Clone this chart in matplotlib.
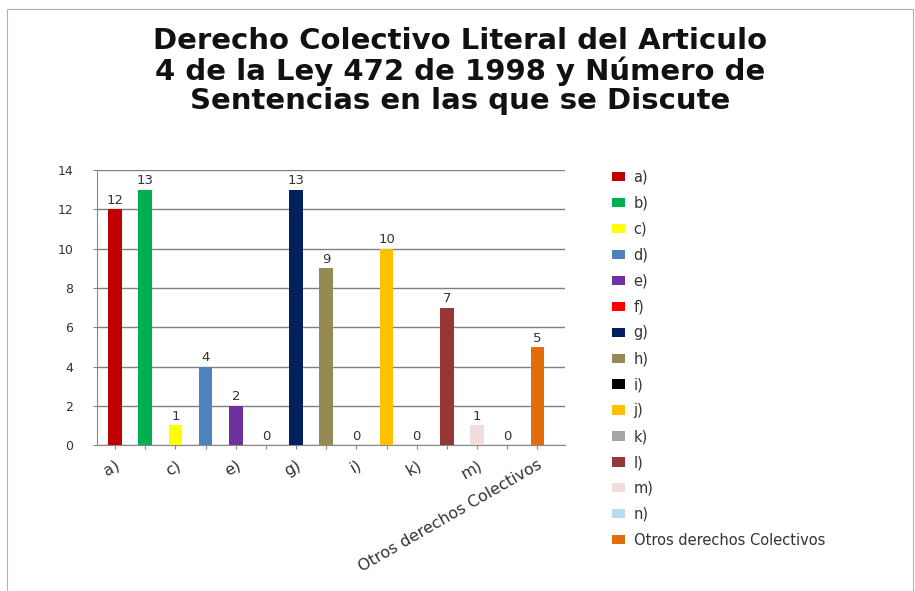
import matplotlib
matplotlib.use("Agg")
import matplotlib.pyplot as plt
from matplotlib.patches import Patch, Rectangle

categories = ["a)", "b)", "c)", "d)", "e)", "f)", "g)", "h)", "i)", "j)",
              "k)", "l)", "m)", "n)", "Otros derechos Colectivos"]
values = [12, 13, 1, 4, 2, 0, 13, 9, 0, 10, 0, 7, 1, 0, 5]
colors = ["#C00000", "#00B050", "#FFFF00", "#4F81BD", "#7030A0", "#FF0000",
          "#002060", "#948A54", "#000000", "#FFC000", "#A6A6A6", "#953735",
          "#F2DCDB", "#B7DEE8", "#E46C0A"]
yticks = [0, 2, 4, 6, 8, 10, 12, 14]
title = ("Derecho Colectivo Literal del Articulo\n"
         "4 de la Ley 472 de 1998 y Número de\n"
         "Sentencias en las que se Discute")

fig = plt.figure(figsize=(9.15, 5.91), dpi=100)
fig.patches.append(Rectangle((0.008, -0.01), 0.99, 0.995, transform=fig.transFigure,
                             fill=False, edgecolor="#B0B0B0", linewidth=0.8))

ax = fig.add_axes([0.106, 0.247, 0.511, 0.465])
x = list(range(len(categories)))
ax.bar(x, values, width=0.45, color=colors, edgecolor="none", zorder=3)
for xi, v in zip(x, values):
    ax.text(xi, v + 0.12, str(v), ha="center", va="bottom", fontsize=9.5,
            color="#333333", zorder=4)

ax.set_xlim(-0.6, 14.9)
ax.set_ylim(0, 14)
ax.set_yticks(yticks)
ax.set_yticklabels([str(t) for t in yticks], fontsize=9, color="#333333")
ax.tick_params(axis="y", length=3, color="#888888", pad=14)
ax.yaxis.grid(True, color="#808080", linewidth=1.0, zorder=0)
ax.set_xticks(x)
ax.set_xticklabels([c if i % 2 == 0 else "" for i, c in enumerate(categories)],
                   rotation=30, ha="right", rotation_mode="anchor",
                   fontsize=11.5, color="#333333")
ax.tick_params(axis="x", length=3, color="#888888", pad=6)
for side in ["top", "right"]:
    ax.spines[side].set_visible(False)
ax.spines["left"].set_color("#888888")
ax.spines["bottom"].set_color("#888888")

fig.text(0.503, 0.954, title, ha="center", va="top", fontsize=21,
         fontweight="bold", linespacing=1.06, color="#111111")

handles = [Patch(facecolor=c, edgecolor="none") for c in colors]
fig.legend(handles, categories, loc="upper left", bbox_to_anchor=(0.655, 0.735),
           frameon=False, fontsize=10.5, labelcolor="#333333",
           handlelength=0.85, handleheight=0.6, handletextpad=0.6,
           labelspacing=0.75)

fig.savefig("out.png", dpi=100)
